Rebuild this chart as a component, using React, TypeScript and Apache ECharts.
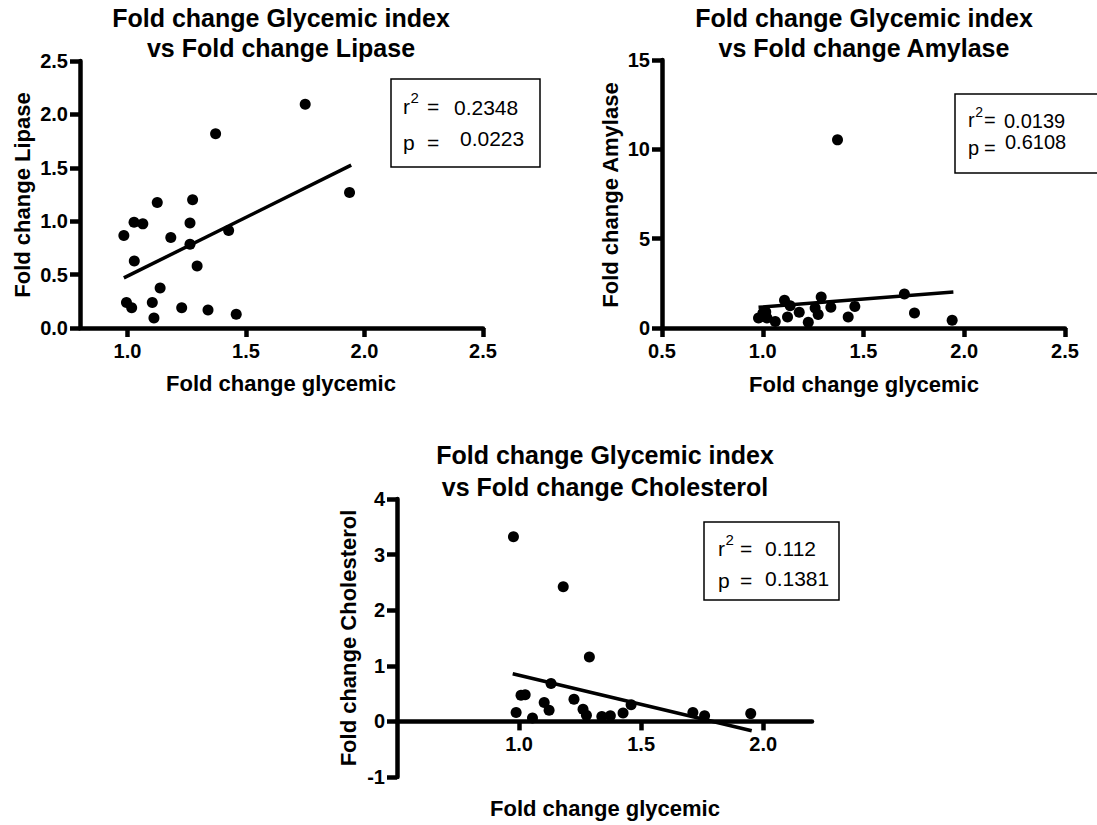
import React, { useEffect, useRef } from "react";
import * as echarts from "echarts";

// Chart 1: Glycemic vs Lipase
const glycemic1 = [1.75, 1.372, 1.937, 1.126, 1.275, 1.028, 1.065, 1.264, 0.985, 1.427, 1.183, 1.264, 1.029, 1.294, 1.138, 0.996, 1.018, 1.105, 1.229, 1.34, 1.459, 1.112];
const lipase = [2.094, 1.819, 1.269, 1.175, 1.2, 0.991, 0.975, 0.984, 0.866, 0.913, 0.847, 0.784, 0.628, 0.581, 0.375, 0.238, 0.19, 0.238, 0.19, 0.169, 0.128, 0.094];
const fitX1 = [0.985, 1.944];
const fitY1 = [0.469, 1.525];

// Chart 2: Glycemic vs Amylase
const glycemic2 = [1.371, 1.703, 1.753, 1.94, 1.29, 1.457, 1.338, 1.424, 1.275, 1.26, 1.226, 1.181, 1.108, 1.136, 1.123, 1.062, 0.979, 1.001, 1.021, 1.004, 1.015];
const amylase = [10.53, 1.9, 0.84, 0.43, 1.73, 1.21, 1.16, 0.61, 0.75, 1.12, 0.32, 0.88, 1.55, 1.25, 0.61, 0.37, 0.56, 0.84, 0.56, 0.65, 0.9];
const fitX2 = [0.979, 1.946];
const fitY2 = [1.155, 2.01];

// Chart 3: Glycemic vs Cholesterol
const glycemic3 = [0.977, 1.181, 1.288, 1.131, 1.008, 1.025, 0.988, 1.055, 1.103, 1.123, 1.225, 1.262, 1.276, 1.339, 1.374, 1.426, 1.459, 1.712, 1.76, 1.949];
const cholesterol = [3.32, 2.42, 1.16, 0.68, 0.47, 0.48, 0.16, 0.06, 0.34, 0.2, 0.4, 0.22, 0.11, 0.09, 0.1, 0.15, 0.3, 0.16, 0.1, 0.14];
const fitX3 = [0.974, 1.953];
const fitY3 = [0.858, -0.168];

const titles = [
  ["Fold change Glycemic index", "vs Fold change Lipase"],
  ["Fold change Glycemic index", "vs Fold change Amylase"],
  ["Fold change Glycemic index", "vs Fold change Cholesterol"],
];
const yNames = ["Fold change Lipase", "Fold change Amylase", "Fold change Cholesterol"];
const xName = "Fold change glycemic";
const r2Values = ["0.2348", "0.0139", "0.112"];
const pValues = ["0.0223", "0.6108", "0.1381"];

const FONT = '"Liberation Sans", Arial, Helvetica, sans-serif';
const AXW = 4.5;

function pairs(xs: number[], ys: number[]) {
  return xs.map((x, i) => [x, ys[i]]);
}

function xAxisOpt(gi: number, min: number, max: number, ticks: number[], offset = 0) {
  return {
    type: "value",
    gridIndex: gi,
    min,
    max,
    offset,
    splitLine: { show: false },
    axisLine: { show: true, onZero: false, lineStyle: { color: "#000", width: AXW, type: "solid" } },
    axisTick: { show: true, inside: false, length: 9, customValues: ticks, lineStyle: { color: "#000", width: AXW, type: "solid" } },
    axisLabel: {
      show: true,
      customValues: ticks,
      margin: 13,
      color: "#000",
      fontFamily: FONT,
      fontWeight: "bold",
      fontSize: 20,
      formatter: (v: number) => v.toFixed(1),
    },
  };
}

function yAxisOpt(gi: number, min: number, max: number, interval: number, fmt: (v: number) => string) {
  return {
    type: "value",
    gridIndex: gi,
    min,
    max,
    interval,
    splitLine: { show: false },
    axisLine: { show: true, onZero: false, lineStyle: { color: "#000", width: AXW, type: "solid" } },
    axisTick: { show: true, inside: false, length: 10, lineStyle: { color: "#000", width: AXW, type: "solid" } },
    axisLabel: {
      show: true,
      margin: 12,
      color: "#000",
      fontFamily: FONT,
      fontWeight: "bold",
      fontSize: 20,
      formatter: fmt,
    },
  };
}

function scatter(gi: number, xs: number[], ys: number[]) {
  return {
    type: "scatter",
    xAxisIndex: gi,
    yAxisIndex: gi,
    data: pairs(xs, ys),
    symbol: "circle",
    symbolSize: 11,
    itemStyle: { color: "#000", opacity: 1 },
    clip: false,
    z: 3,
  };
}

function fit(gi: number, xs: number[], ys: number[]) {
  return {
    type: "line",
    xAxisIndex: gi,
    yAxisIndex: gi,
    data: pairs(xs, ys),
    symbol: "none",
    lineStyle: { color: "#000", width: 3.5 },
    clip: false,
    z: 4,
  };
}

function txt(x: number, y: number, text: string, size: number, bold: boolean, align = "center", rot = 0) {
  return {
    type: "text",
    x,
    y,
    rotation: rot,
    style: {
      text,
      fill: "#000",
      fontFamily: FONT,
      fontWeight: bold ? "bold" : "normal",
      fontSize: size,
      textAlign: align,
      textVerticalAlign: "middle",
    },
  };
}

function statBox(
  bx: number, by: number, bw: number, bh: number,
  lx: number, r2y: number, py: number, eqX: number, valX: number, valX2: number, valY1: number, valY2: number,
  size: number, r2: string, p: string
) {
  return [
    {
      type: "rect",
      shape: { x: bx, y: by, width: bw, height: bh },
      style: { fill: "#fff", stroke: "#000", lineWidth: 1.5 },
      z: 10,
    },
    { ...txt(lx, r2y, "r", size, false, "left"), z: 11 },
    { ...txt(lx + size * 0.36, r2y - size * 0.4, "2", Math.round(size * 0.72), false, "left"), z: 11 },
    { ...txt(eqX, r2y, "=", size, false, "left"), z: 11 },
    { ...txt(valX, valY1, r2, size, false, "left"), z: 11 },
    { ...txt(lx, py, "p", size, false, "left"), z: 11 },
    { ...txt(eqX, py, "=", size, false, "left"), z: 11 },
    { ...txt(valX2, valY2, p, size, false, "left"), z: 11 },
  ];
}

export default function App() {
  const ref = useRef<HTMLDivElement>(null);
  useEffect(() => {
    if (!ref.current) return;
    const chart = echarts.init(ref.current, null, { renderer: "svg" });
    const grids = [
      { left: 80, top: 61, width: 403, height: 267 },
      { left: 662, top: 60, width: 403, height: 268 },
      { left: 397, top: 499, width: 415, height: 278 },
    ];
    const yMin3 = -1;
    const yMax3 = 4;
    const zeroOffset3 = -((0 - yMin3) / (yMax3 - yMin3)) * grids[2].height;
    const option: any = {
      animation: false,
      backgroundColor: "#fff",
      grid: grids.map((g) => ({ ...g, containLabel: false, outerBoundsMode: "none", show: false })),
      xAxis: [
        xAxisOpt(0, 0.8, 2.5, [1.0, 1.5, 2.0, 2.5]),
        xAxisOpt(1, 0.5, 2.5, [0.5, 1.0, 1.5, 2.0, 2.5]),
        xAxisOpt(2, 0.5, 2.2, [1.0, 1.5, 2.0], zeroOffset3),
      ],
      yAxis: [
        yAxisOpt(0, 0, 2.5, 0.5, (v) => v.toFixed(1)),
        yAxisOpt(1, 0, 15, 5, (v) => String(v)),
        yAxisOpt(2, yMin3, yMax3, 1, (v) => String(v)),
      ],
      series: [
        scatter(0, glycemic1, lipase),
        fit(0, fitX1, fitY1),
        scatter(1, glycemic2, amylase),
        fit(1, fitX2, fitY2),
        scatter(2, glycemic3, cholesterol),
        fit(2, fitX3, fitY3),
      ],
      graphic: [
        // titles
        txt(281, 18, titles[0][0], 25, true),
        txt(281, 48, titles[0][1], 25, true),
        txt(864, 18, titles[1][0], 25, true),
        txt(864, 48, titles[1][1], 25, true),
        txt(605, 455, titles[2][0], 25, true),
        txt(605, 487, titles[2][1], 25, true),
        // y axis names
        txt(22, 195, yNames[0], 22, true, "center", Math.PI / 2),
        txt(610, 195, yNames[1], 22, true, "center", Math.PI / 2),
        txt(348, 638, yNames[2], 22, true, "center", Math.PI / 2),
        // x axis names
        txt(281, 383, xName, 22, true),
        txt(864, 384, xName, 22, true),
        txt(605, 808, xName, 22, true),
        // stat boxes
        ...statBox(391, 79, 149, 88, 403, 106, 142, 427, 454, 460, 107, 138, 21, r2Values[0], pValues[0]),
        ...statBox(955, 94, 150, 79, 968, 120, 148, 984, 1004, 1005, 121, 142, 20, r2Values[1], pValues[1]),
        ...statBox(704, 522, 135, 78, 718, 548, 580, 740, 765, 765, 548, 578, 21, r2Values[2], pValues[2]),
      ],
    };
    chart.setOption(option);
    return () => chart.dispose();
  }, []);
  return (
    <div
      ref={ref}
      style={{ position: "absolute", left: 0, top: 0, width: 1097, height: 825, background: "#fff" }}
    />
  );
}
